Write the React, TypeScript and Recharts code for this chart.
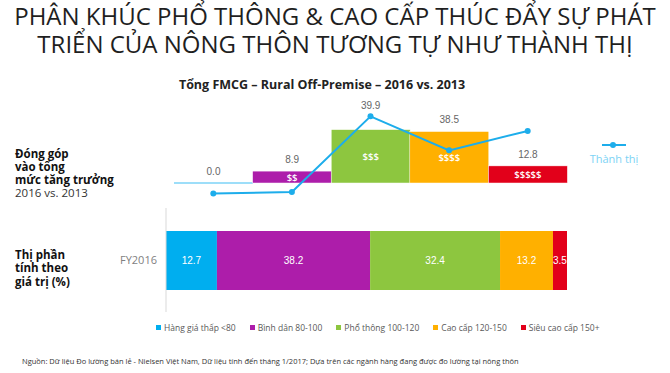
import React from "react"
import {
  ComposedChart,
  BarChart,
  Bar,
  Line,
  XAxis,
  YAxis,
  Cell,
  LabelList,
  Legend,
} from "recharts"

// price tiers (index vs. category average)
const segments = ["Hàng giá thấp <80", "Bình dân 80-100", "Phổ thông 100-120", "Cao cấp 120-150", "Siêu cao cấp 150+"]
const tiers = ["$", "$$", "$$$", "$$$$", "$$$$$"]

// contribution to growth 2016 vs. 2013 (%)
const ruralGrowth = [0.0, 8.9, 39.9, 38.5, 12.8]
const urbanGrowth = [-7.9, -6.7, 49.8, 24.4, 38.9]

// value share FY2016 (%)
const periods = ["FY2016"]
const share2016 = [12.7, 38.2, 32.4, 13.2, 3.5]

const COLORS = ["#00AEEF", "#AD1DAA", "#8DC63F", "#FFB000", "#E2001A"]
const LINE_COLOR = "#1DADEB"
const FONT = "'Open Sans', 'Noto Sans', sans-serif"
const NUM_FONT = "'Liberation Sans', Arial, sans-serif"

const growthData = segments.map((s, i) => ({
  segment: s,
  tier: tiers[i],
  rural: ruralGrowth[i],
  urban: urbanGrowth[i],
}))

const shareData = periods.map((p) => {
  const row: Record<string, any> = { period: p }
  segments.forEach((s, i) => (row[s] = share2016[i]))
  return row
})

// top chart geometry
const TOP_H = 215
const Y_MIN = -10
const Y_MAX = 60
const TOP_MARGIN = { top: 102.7, right: 103, bottom: 18.6, left: 174 }
const PX_PER_UNIT = (TOP_H - TOP_MARGIN.top - TOP_MARGIN.bottom) / (Y_MAX - Y_MIN)

function GrowthBar(props: any) {
  const { x, y, width, height, fill } = props
  if (!height || Math.abs(height) < 1) {
    return <line x1={x} x2={x + width} y1={y} y2={y} stroke="#7DD3F7" strokeWidth={1.5} />
  }
  return <rect x={x} y={y} width={width} height={height} fill={fill} stroke="#fff" strokeWidth={0.5} />
}

function ValueLabel(props: any) {
  const vb = props.viewBox ?? props
  const { x, y, width, height } = vb
  const idx = props.index
  const base = y + height
  let top = y - 8
  const u = urbanGrowth[idx]
  if (u != null) {
    const py = base - u * PX_PER_UNIT
    if (py < y && y - py < 20) top = py - 7
  }
  return (
    <text x={x + width / 2} y={top} textAnchor="middle" fontSize={10} fontFamily={NUM_FONT} fill="#666">
      {Number(props.value).toFixed(1)}
    </text>
  )
}

function TierLabel(props: any) {
  const vb = props.viewBox ?? props
  const { x, y, width, height } = vb
  if (!height || height < 8) return null
  return (
    <text
      x={x + width / 2}
      y={y + height / 2 + 3.5}
      textAnchor="middle"
      fontSize={9.5}
      fontWeight={600}
      fontFamily={FONT}
      fill="#fff"
    >
      {props.value}
    </text>
  )
}

function UrbanLegend(props: any) {
  const items = (props.payload || []).filter((p: any) => p.type !== "none")
  return (
    <div style={{ fontFamily: FONT }}>
      {items.map((it: any) => (
        <div key={it.value} style={{ display: "flex", flexDirection: "column", alignItems: "center" }}>
          <svg width={24} height={8}>
            <line x1={0} x2={24} y1={4} y2={4} stroke={LINE_COLOR} strokeWidth={2} />
            <circle cx={11} cy={4} r={3} fill={LINE_COLOR} />
          </svg>
          <span style={{ fontSize: 11, color: "#7DD3F5", marginTop: 2 }}>{it.value}</span>
        </div>
      ))}
    </div>
  )
}

function SegmentLegend(props: any) {
  const items = [...(props.payload || [])].sort(
    (a: any, b: any) => segments.indexOf(a.value) - segments.indexOf(b.value)
  )
  return (
    <div style={{ display: "flex", gap: 14, fontFamily: FONT, fontSize: 8.5, color: "#595959", whiteSpace: "nowrap" }}>
      {items.map((it: any) => (
        <div key={it.value} style={{ display: "flex", alignItems: "center" }}>
          <span style={{ width: 5, height: 5, background: it.color, marginRight: 3, display: "inline-block" }} />
          <span>{it.value}</span>
        </div>
      ))}
    </div>
  )
}

export default function App() {
  return (
    <div
      style={{
        position: "absolute",
        left: 0,
        top: 0,
        width: 670,
        height: 373,
        background: "#fff",
        fontFamily: FONT,
        overflow: "hidden",
      }}
    >
      <div
        style={{
          position: "absolute",
          left: 0,
          top: 2,
          width: 670,
          textAlign: "center",
          fontSize: 24,
          lineHeight: "28px",
          color: "#1f1f1f",
        }}
      >
        PHÂN KHÚC PHỔ THÔNG &amp; CAO CẤP THÚC ĐẨY SỰ PHÁT
        <br />
        TRIỂN CỦA NÔNG THÔN TƯƠNG TỰ NHƯ THÀNH THỊ
      </div>

      <div
        style={{
          position: "absolute",
          left: 0,
          top: 76,
          width: 644,
          textAlign: "center",
          fontSize: 12.5,
          fontWeight: 700,
          color: "#222",
        }}
      >
        Tổng FMCG – Rural Off-Premise – 2016 vs. 2013
      </div>

      <div style={{ position: "absolute", left: 15, top: 147, fontSize: 11.5, lineHeight: "13px", color: "#111" }}>
        <div style={{ fontWeight: 700 }}>Đóng góp</div>
        <div style={{ fontWeight: 700 }}>vào tổng</div>
        <div style={{ fontWeight: 700 }}>mức tăng trưởng</div>
        <div style={{ color: "#333" }}>2016 vs. 2013</div>
      </div>

      <div style={{ position: "absolute", left: 15, top: 248, fontSize: 11.5, lineHeight: "13.3px", fontWeight: 700, color: "#111" }}>
        <div>Thị phần</div>
        <div>tính theo</div>
        <div>giá trị (%)</div>
      </div>

      <div style={{ position: "absolute", left: 0, top: 0 }}>
        <ComposedChart width={670} height={TOP_H} data={growthData} margin={TOP_MARGIN} barCategoryGap={0}>
          <XAxis dataKey="segment" type="category" hide />
          <YAxis type="number" domain={[Y_MIN, Y_MAX]} hide />
          <Bar dataKey="rural" name="Nông thôn" legendType="none" shape={GrowthBar} isAnimationActive={false}>
            {growthData.map((d, i) => (
              <Cell key={d.segment} fill={COLORS[i]} />
            ))}
            <LabelList dataKey="rural" content={ValueLabel} />
            <LabelList dataKey="tier" content={TierLabel} />
          </Bar>
          <Line
            dataKey="urban"
            name="Thành thị"
            stroke={LINE_COLOR}
            strokeWidth={2}
            dot={{ r: 3, fill: LINE_COLOR, stroke: LINE_COLOR, strokeWidth: 0 }}
            isAnimationActive={false}
          />
          <Legend
            layout="vertical"
            align="center"
            verticalAlign="middle"
            content={UrbanLegend}
            wrapperStyle={{ left: 588, top: 141, width: 52 }}
          />
        </ComposedChart>
      </div>

      <div style={{ position: "absolute", left: 0, top: 0 }}>
        <BarChart
          layout="vertical"
          width={670}
          height={345}
          data={shareData}
          margin={{ top: 208, right: 103, bottom: 33, left: 120 }}
        >
          <XAxis type="number" domain={[0, 100]} hide />
          <YAxis
            type="category"
            dataKey="period"
            width={46}
            tickLine={false}
            axisLine={{ stroke: "#d9d9d9" }}
            tick={{ fill: "#7f7f7f", fontSize: 11, fontFamily: FONT }}
            tickMargin={3}
          />
          {segments.map((s, i) => (
            <Bar key={s} dataKey={s} stackId="share" fill={COLORS[i]} barSize={59} isAnimationActive={false}>
              <LabelList
                dataKey={s}
                position="center"
                fill="#fff"
                fontSize={10}
                fontFamily={NUM_FONT}
                formatter={(v: any) => Number(v).toFixed(1)}
              />
            </Bar>
          ))}
          <Legend
            layout="vertical"
            align="center"
            verticalAlign="middle"
            content={SegmentLegend}
            wrapperStyle={{ left: 156, top: 322, width: 480 }}
          />
        </BarChart>
      </div>

      <div style={{ position: "absolute", left: 22, top: 356, fontSize: 7.5, color: "#333", whiteSpace: "nowrap" }}>
        Nguồn: Dữ liệu Đo lường bán lẻ - Nielsen Việt Nam, Dữ liệu tính đến tháng 1/2017; Dựa trên các ngành hàng đang được đo lường tại nông thôn
      </div>
    </div>
  )
}
